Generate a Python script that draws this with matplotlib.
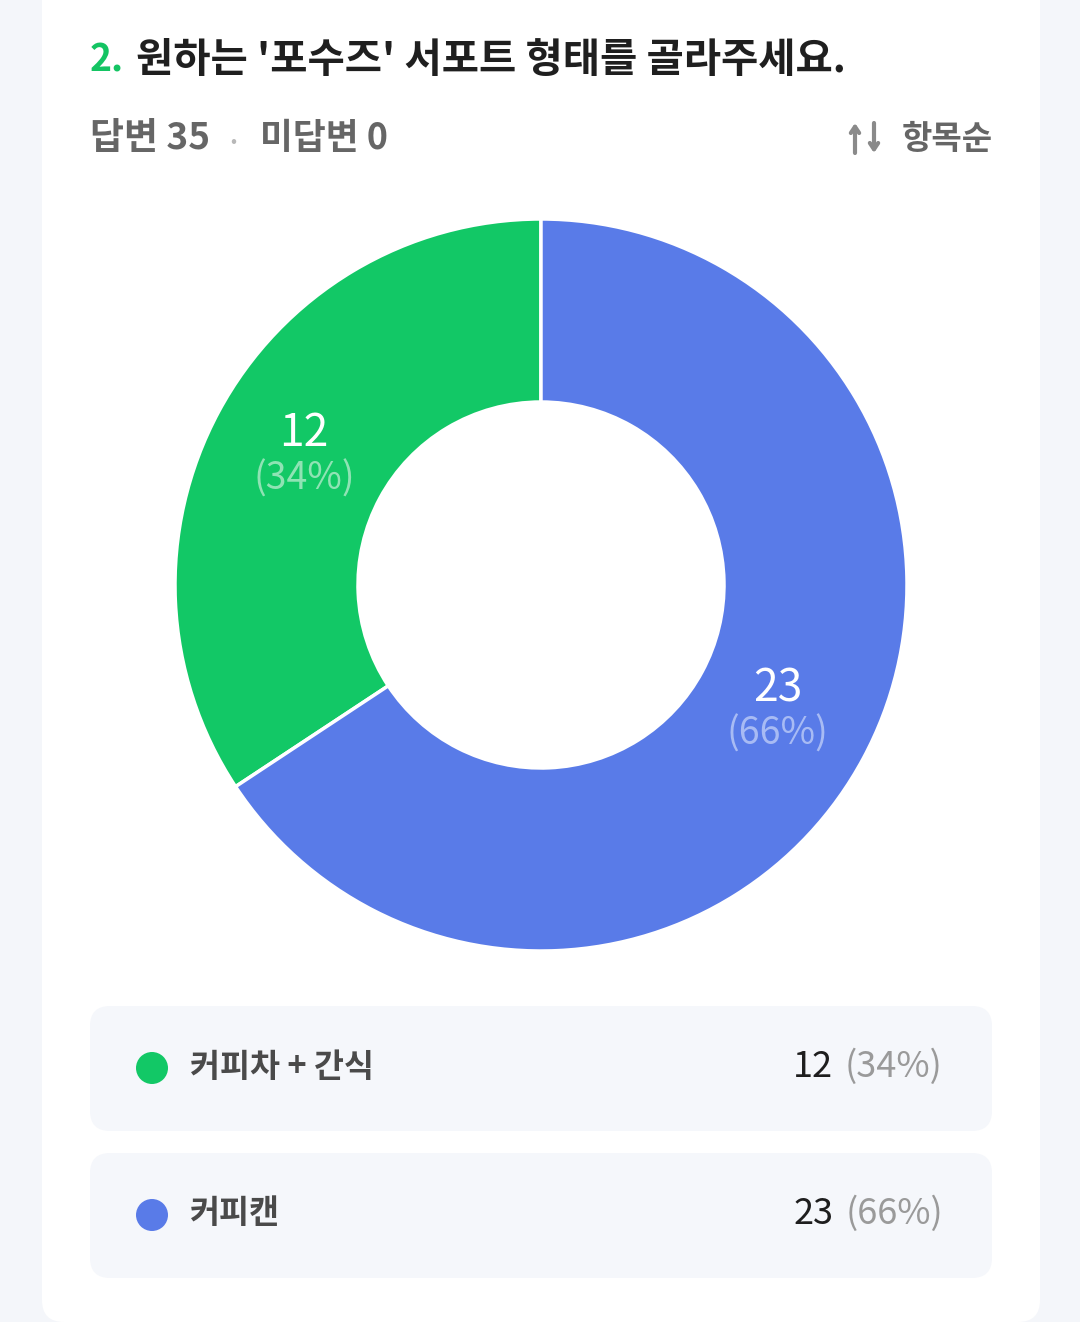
import matplotlib
matplotlib.use('Agg')
import matplotlib.pyplot as plt
from matplotlib.patches import FancyBboxPatch, Circle
import numpy as np

plt.rcParams['font.family'] = ['Noto Sans CJK KR', 'DejaVu Sans']

# data
question = "원하는 '포수즈' 서포트 형태를 골라주세요."
q_num = "2."
labels = ['커피차 + 간식', '커피캔']
counts = [12, 23]
colors = ['#12C866', '#597BE8']
pct_colors = ['#8FE3B4', '#A8BBF4']
unanswered = 0
sort_label = '항목순'

total = sum(counts)
pcts = [round(c / total * 100) for c in counts]

W, H = 1080, 1322
fig = plt.figure(figsize=(W / 100, H / 100), dpi=100, facecolor='#F4F6FA')
r = fig.canvas.get_renderer()

bg = fig.add_axes([0, 0, 1, 1], zorder=0)
bg.set_xlim(0, W)
bg.set_ylim(H, 0)
bg.axis('off')

# white card
bg.add_patch(FancyBboxPatch((42, -60), 998, 1382, boxstyle='round,pad=0,rounding_size=22',
                            fc='white', ec='none'))


def put(x, y, s, width=None, size=20, color='#222', ha='left', weight='normal', ax=bg):
    t = ax.text(x, y, s, fontsize=size, color=color, ha=ha, va='center',
                fontweight=weight)
    if width:
        w = t.get_window_extent(r).width
        t.set_fontsize(size * width / w)
    return t


def right_edge(t):
    return t.get_window_extent(r).x1


# title
t = put(90, 60, q_num, width=34, size=28, color='#14C463', weight='bold')
put(right_edge(t) + 12, 60, question, width=710, size=28, color='#1F1F1F', weight='bold')

# answered / unanswered line
put(90, 139, f'답변 {total}', width=120, size=24, color='#666666', weight='bold')
put(233, 142, '•', size=13, color='#B8B8B8', ha='center')
put(260, 139, f'미답변 {unanswered}', width=128, size=24, color='#666666', weight='bold')
# sort arrows
bg.annotate('', xy=(855, 123), xytext=(855, 153),
            arrowprops=dict(arrowstyle='->,head_length=0.45,head_width=0.3', lw=3,
                            color='#8A8A8A', shrinkA=0, shrinkB=0))
bg.annotate('', xy=(874, 153), xytext=(874, 123),
            arrowprops=dict(arrowstyle='->,head_length=0.45,head_width=0.3', lw=3,
                            color='#8A8A8A', shrinkA=0, shrinkB=0))
put(993, 139, sort_label, width=91, size=24, color='#666666', ha='right', weight='bold')

# legend rows
row_y = [1068, 1215]
lab_size = 23.5
for i, (lab, c, p, col) in enumerate(zip(labels, counts, pcts, colors)):
    y = row_y[i]
    bg.add_patch(FancyBboxPatch((90, y - 62), 902, 125,
                                boxstyle='round,pad=0,rounding_size=20',
                                fc='#F5F7FB', ec='none'))
    bg.add_patch(Circle((152, y), 16, fc=col, ec='none'))
    put(190, y - 1, lab, size=lab_size, color='#4A4A4A', weight='bold')
    pt = put(943, y - 1, f'({p}%)', size=26, color='#9A9A9A', ha='right')
    put(pt.get_window_extent(r).x0 - 12, y - 1, str(c), size=26, color='#1E1E1E', ha='right')

# donut
cx, cy, R = 541, 585, 366
pa = fig.add_axes([(cx - R) / W, 1 - (cy + R) / H, 2 * R / W, 2 * R / H], zorder=1)
pa.patch.set_alpha(0)
wedges, _ = pa.pie(counts, colors=colors, startangle=90, counterclock=True,
                   wedgeprops=dict(width=0.5, edgecolor='white', linewidth=2.5))
pa.set_xlim(-1, 1)
pa.set_ylim(-1, 1)
pa.set_aspect('equal')
pa.axis('off')

for w, c, p, pc in zip(wedges, counts, pcts, pct_colors):
    ang = np.deg2rad((w.theta1 + w.theta2) / 2)
    x, y = 0.735 * np.cos(ang), 0.735 * np.sin(ang)
    pa.text(x, y + 0.066, str(c), ha='center', va='center', fontsize=32,
            color='white')
    pa.text(x, y - 0.06, f'({p}%)', ha='center', va='center', fontsize=27,
            color=pc)

fig.savefig('out.png', dpi=100, facecolor=fig.get_facecolor())
